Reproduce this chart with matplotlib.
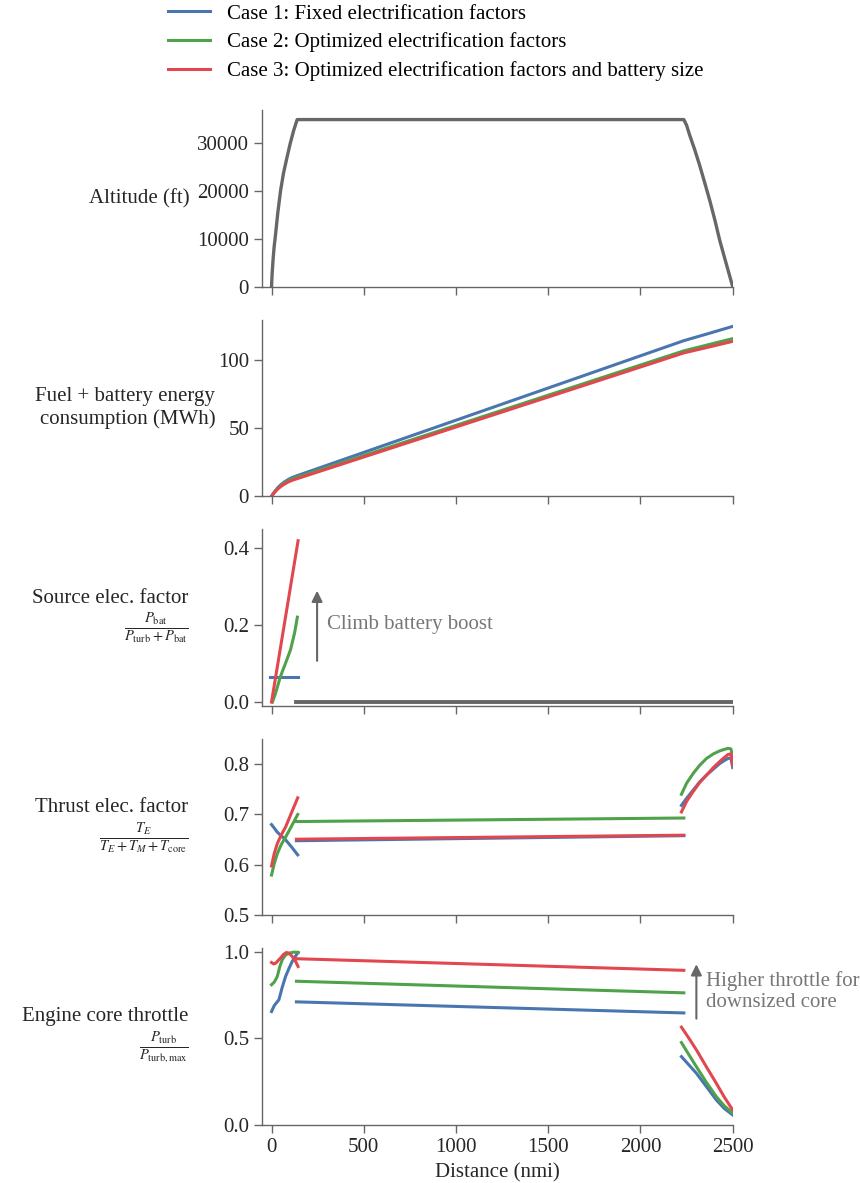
import matplotlib
matplotlib.use("Agg")
import matplotlib.pyplot as plt
import numpy as np

plt.rcParams['font.family'] = ['Liberation Serif', 'DejaVu Serif']
plt.rcParams['mathtext.fontset'] = 'stix'
plt.rcParams['font.size'] = 15

# colours of the three cases
c_blue = '#4a76b0'
c_green = '#4fa24a'
c_red = '#e2474f'
c_gray = '#676767'
c_note = '#777777'

case_labels = ['Case 1: Fixed electrification factors',
               'Case 2: Optimized electrification factors',
               'Case 3: Optimized electrification factors and battery size']

# ---- altitude (ft), same for all cases
alt_x = [0, 3, 8, 14, 22, 34, 49, 65, 84, 102, 120, 139,
         2235, 2250, 2267, 2294, 2321, 2348, 2376, 2403, 2430, 2465, 2500]
alt_y = [0, 2500, 5500, 8300, 11000, 15500, 20100, 23800, 27100, 30100, 32700, 35000,
         35000, 33800, 31700, 28700, 25400, 21800, 18000, 14000, 9650, 4800, 0]

# ---- fuel + battery energy (MWh)
energy_x = [0, 10, 20, 35, 50, 70, 90, 112, 135, 2235, 2370, 2500]
energy_case1 = [0, 2.2, 4.0, 6.5, 8.5, 10.6, 12.3, 13.8, 15.0, 114.5, 119.8, 125.0]
energy_case2 = [0, 2.0, 3.7, 6.0, 7.8, 9.7, 11.3, 12.7, 13.8, 107.0, 111.6, 116.0]
energy_case3 = [0, 1.8, 3.4, 5.5, 7.2, 9.0, 10.5, 11.8, 12.8, 105.5, 109.8, 114.0]

# ---- source electrification factor
src_case1_x = [-10, 145]
src_case1_y = [0.066, 0.066]
src_case2_x = [5, 20, 48, 75, 103, 125, 140]
src_case2_y = [0.0, 0.02, 0.066, 0.10, 0.136, 0.18, 0.221]
src_case3_x = [0, 144]
src_case3_y = [0.0, 0.42]
src_rest_x = [135, 2500]
src_rest_y = [0.0, 0.0]

# ---- thrust electrification factor (climb / cruise / descent)
thr_climb_x = [0, 15, 31, 52, 76, 110, 142]
thr_climb_case1 = [0.680, 0.673, 0.665, 0.658, 0.650, 0.635, 0.620]
thr_climb_case2 = [0.580, 0.603, 0.622, 0.640, 0.655, 0.678, 0.700]
thr_climb_case3 = [0.598, 0.623, 0.642, 0.659, 0.675, 0.705, 0.733]
thr_cruise_x = [135, 2235]
thr_cruise_case1 = [0.648, 0.658]
thr_cruise_case2 = [0.686, 0.693]
thr_cruise_case3 = [0.651, 0.659]
thr_desc_x = [2222, 2250, 2285, 2320, 2358, 2395, 2430, 2455, 2475, 2490, 2500]
thr_desc_case1 = [0.718, 0.732, 0.748, 0.764, 0.778, 0.790, 0.801, 0.807, 0.811, 0.812, 0.793]
thr_desc_case2 = [0.740, 0.762, 0.781, 0.797, 0.811, 0.820, 0.826, 0.829, 0.831, 0.830, 0.815]
thr_desc_case3 = [0.705, 0.726, 0.745, 0.763, 0.778, 0.793, 0.805, 0.813, 0.819, 0.820, 0.798]

# ---- engine core throttle
core_climb_case1_x = [0, 15, 40, 58, 76, 95, 112, 130, 144]
core_climb_case1_y = [0.655, 0.690, 0.723, 0.795, 0.857, 0.905, 0.944, 0.975, 0.996]
core_climb_case2_x = [0, 15, 31, 45, 58, 75, 94, 120, 144]
core_climb_case2_y = [0.810, 0.825, 0.857, 0.915, 0.954, 0.980, 0.992, 0.998, 0.996]
core_climb_case3_x = [0, 12, 24, 36, 49, 65, 81, 97, 112, 128, 144]
core_climb_case3_y = [0.938, 0.930, 0.935, 0.950, 0.964, 0.985, 0.996, 0.990, 0.973, 0.950, 0.915]
core_cruise_x = [135, 2235]
core_cruise_case1 = [0.711, 0.647]
core_cruise_case2 = [0.830, 0.763]
core_cruise_case3 = [0.960, 0.893]
core_desc_x = [2222, 2260, 2303, 2355, 2411, 2455, 2500]
core_desc_case1 = [0.395, 0.350, 0.299, 0.225, 0.145, 0.095, 0.058]
core_desc_case2 = [0.476, 0.410, 0.337, 0.250, 0.164, 0.110, 0.068]
core_desc_case3 = [0.565, 0.505, 0.434, 0.340, 0.241, 0.160, 0.087]

fig, axes = plt.subplots(5, 1, sharex=True, figsize=(8.6, 11.83), dpi=100)
fig.subplots_adjust(left=0.305, right=0.852, top=0.907, bottom=0.049, hspace=0.186)

lw = 2.2
cols = [c_blue, c_green, c_red]

# altitude
ax = axes[0]
ax.plot(alt_x, alt_y, color=c_gray, lw=2.4)
ax.set_ylim(0, 37000)
ax.set_yticks([0, 10000, 20000, 30000])
ax.set_ylabel('Altitude (ft)')

# energy
ax = axes[1]
handles = []
for y, c, lab in zip([energy_case1, energy_case2, energy_case3], cols, case_labels):
    h, = ax.plot(energy_x, y, color=c, lw=lw, label=lab)
    handles.append(h)
ax.set_ylim(0, 130)
ax.set_yticks([0, 50, 100])
ax.set_ylabel('Fuel + battery energy\nconsumption (MWh)')

# source elec. factor
ax = axes[2]
ax.plot(src_case1_x, src_case1_y, color=c_blue, lw=lw)
ax.plot(src_case2_x, src_case2_y, color=c_green, lw=lw)
ax.plot(src_case3_x, src_case3_y, color=c_red, lw=lw)
ax.plot(src_rest_x, src_rest_y, color=c_gray, lw=2.8)
ax.set_ylim(-0.01, 0.45)
ax.set_yticks([0.0, 0.2, 0.4])
ax.set_ylabel('Source elec. factor\n'
              r'$\frac{P_\mathrm{bat}}{P_\mathrm{turb}+P_\mathrm{bat}}$')
ax.annotate('', xy=(247, 0.297), xytext=(247, 0.10),
            arrowprops=dict(arrowstyle='-|>', color=c_gray, lw=1.5, mutation_scale=16))
ax.text(301, 0.203, 'Climb battery boost', color=c_note, va='center', ha='left')

# thrust elec. factor
ax = axes[3]
for yc, yr, yd, c in zip([thr_climb_case1, thr_climb_case2, thr_climb_case3],
                         [thr_cruise_case1, thr_cruise_case2, thr_cruise_case3],
                         [thr_desc_case1, thr_desc_case2, thr_desc_case3], cols):
    ax.plot(thr_climb_x, yc, color=c, lw=lw)
    ax.plot(thr_cruise_x, yr, color=c, lw=lw)
    ax.plot(thr_desc_x, yd, color=c, lw=lw)
ax.set_ylim(0.5, 0.85)
ax.set_yticks([0.5, 0.6, 0.7, 0.8])
ax.set_ylabel('Thrust elec. factor\n'
              r'$\frac{T_E}{T_E+T_M+T_\mathrm{core}}$')

# engine core throttle
ax = axes[4]
climbs = [(core_climb_case1_x, core_climb_case1_y),
          (core_climb_case2_x, core_climb_case2_y),
          (core_climb_case3_x, core_climb_case3_y)]
for (cx, cy), yr, yd, c in zip(climbs,
                               [core_cruise_case1, core_cruise_case2, core_cruise_case3],
                               [core_desc_case1, core_desc_case2, core_desc_case3], cols):
    ax.plot(cx, cy, color=c, lw=lw)
    ax.plot(core_cruise_x, yr, color=c, lw=lw)
    ax.plot(core_desc_x, yd, color=c, lw=lw)
ax.set_ylim(0, 1.02)
ax.set_yticks([0.0, 0.5, 1.0])
ax.set_ylabel('Engine core throttle\n'
              r'$\frac{P_\mathrm{turb}}{P_\mathrm{turb,max}}$')
ax.annotate('', xy=(2303, 0.944), xytext=(2303, 0.598),
            arrowprops=dict(arrowstyle='-|>', color=c_gray, lw=1.5, mutation_scale=16))
ax.text(2354, 0.77, 'Higher throttle for\ndownsized core', color=c_note,
        va='center', ha='left', clip_on=False)
ax.set_xlabel('Distance (nmi)')
ax.set_xlim(-50, 2500)
ax.set_xticks([0, 500, 1000, 1500, 2000, 2500])

# right edge of each y label, in axes fraction (matches the reference offsets)
label_x = [-0.155, -0.1, -0.157, -0.157, -0.157]
for ax, lx in zip(axes, label_x):
    ax.spines['top'].set_visible(False)
    ax.spines['right'].set_visible(False)
    for s in ['left', 'bottom']:
        ax.spines[s].set_color('#666666')
        ax.spines[s].set_linewidth(1.0)
    ax.tick_params(colors='#666666', labelcolor='#262626', length=6, width=1.0)
    ax.set_ylabel(ax.get_ylabel(), rotation=0, ha='right', va='center',
                  multialignment='right', color='#262626')
    ax.yaxis.set_label_coords(lx, 0.5)
axes[4].xaxis.label.set_color('#262626')

fig.legend(handles=handles, loc='upper left', bbox_to_anchor=(0.191, 1.0),
           frameon=False, borderaxespad=0, borderpad=0.2, labelspacing=0.42)

fig.savefig('out.png', dpi=100)
